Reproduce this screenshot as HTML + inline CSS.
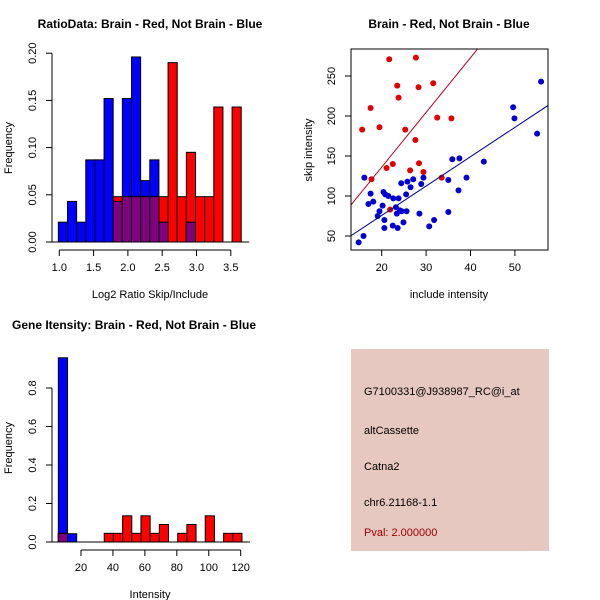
<!DOCTYPE html>
<html><head><meta charset="utf-8"><style>
body{margin:0;background:#fff}
svg{display:block;font-family:"Liberation Sans",sans-serif}
</style></head><body>
<svg id="c" width="600" height="600" viewBox="0 0 600 600" xmlns="http://www.w3.org/2000/svg">
<rect x="0" y="0" width="600" height="600" fill="#fff"/>
<g id="p1"></g>
<g id="p2"></g>
<g id="p3"></g>
<g id="p4">
<rect x="351" y="349" width="198" height="202" fill="#e6c8c0"/>
<text x="364" y="395" font-size="11" fill="#000">G7100331@J938987_RC@i_at</text>
<text x="364" y="434" font-size="11" fill="#000">altCassette</text>
<text x="364" y="470" font-size="11" fill="#000">Catna2</text>
<text x="364" y="506" font-size="11" fill="#000">chr6.21168-1.1</text>
<text x="364" y="536" font-size="11" fill="#a00000">Pval: 2.000000</text>
</g>
</svg>
<script>
// Histogram 1 data
const h1Start = 0.986, h1Width = 0.1333;
const h1Blue = [0.021,0.043,0.021,0.087,0.087,0.152,0.043,0.152,0.196,0.065,0.087,0.021,0,0,0.021,0,0,0,0,0];
const h1Red  = [0,0,0,0,0,0,0.048,0.048,0.048,0.048,0.048,0.048,0.19,0.048,0.095,0.048,0.048,0.143,0,0.143];
const h1XTicks = [1.0,1.5,2.0,2.5,3.0,3.5];
const h1YTicks = [0,0.05,0.10,0.15,0.20];
// Scatter data
const redX = [15.6,17.5,19.5,21.7,23.5,23.8,25.3,27.7,28.3,27.6,31.6,32.5,35.7,17.7,21.1,22.5,26.4,28.4,29.4,33.5,21.9];
const redY = [183,210,186,271,238,223,183,273,236,170,241,198,197,121,135,140,132,141,130,123,83];
const blueX = [14.8,15.9,16.1,17.5,17.0,18.1,19.1,19.5,20.2,20.4,20.8,21.5,20.6,20.6,22.6,23.8,23.2,23.4,24.1,24.5,25.6,24.4,25.8,25.5,26.5,27.1,28.9,29.4,28.5,24.9,22.5,23.6,30.7,31.8,35.0,35.0,35.9,37.5,37.3,39.1,43.0,49.6,49.9,55.0,55.9];
const blueY = [42,50,123,103,90,93,75,81,88,105,102,100,70,60,97,97,86,78,82,81,81,116,118,102,111,121,115,123,78,67,63,60,62,70,120,80,146,147,107,123,143,211,197,178,243];
const redFit = [-0.7, 6.84];   // intercept, slope (approx.)
const blueFit = [2.3, 3.67];
const scXTicks = [20,30,40,50];
const scYTicks = [50,100,150,200,250];
// Histogram 3 data
const h3Start = 5.8, h3Width = 5.75;
const h3Blue = [0.957,0.043,0,0,0,0,0,0,0,0,0,0,0,0,0,0,0,0,0,0];
const h3Red  = [0.045,0,0,0,0,0.045,0.045,0.136,0.045,0.136,0.045,0.091,0,0.045,0.091,0,0.136,0,0.045,0.045];
const h3XTicks = [20,40,60,80,100,120];
const h3YTicks = [0,0.2,0.4,0.6,0.8];

const NS="http://www.w3.org/2000/svg";
function mk(parent,tag,attrs,txt){const e=document.createElementNS(NS,tag);for(const k in attrs)e.setAttribute(k,attrs[k]);if(txt!==undefined)e.textContent=txt;parent.appendChild(e);return e;}

function hist(g, o){
  const xs=v=>o.x0px+(v-o.x0)*o.xk, ys=v=>o.y0px-v*o.yk;
  const n=o.blue.length;
  for(let i=0;i<n;i++){
    const a=xs(o.start+i*o.w), b=xs(o.start+(i+1)*o.w);
    const bv=o.blue[i], rv=o.red[i];
    if(bv>0){const r=mk(g,'rect',{x:a,y:ys(bv),width:b-a,height:ys(0)-ys(bv),fill:'#0000ff',stroke:'#000','stroke-width':1});
      
      }
    if(rv>0){const r=mk(g,'rect',{x:a,y:ys(rv),width:b-a,height:ys(0)-ys(rv),fill:'#ff0000',stroke:'#000','stroke-width':1});
      
      }
    const m=Math.min(bv,rv);
    if(m>0){const r=mk(g,'rect',{x:a,y:ys(m),width:b-a,height:ys(0)-ys(m),fill:'#800080',stroke:'#000','stroke-width':1});
      
      }
  }
  const ya=mk(g,'line',{x1:o.axX,x2:o.axX,y1:ys(o.yt[0]),y2:ys(o.yt[o.yt.length-1]),stroke:'#000'});
  
  
  o.yt.forEach(t=>{mk(g,'line',{x1:o.axX-6,x2:o.axX,y1:ys(t),y2:ys(t),stroke:'#000'});
    const lx=o.axX-16;
    const tx=mk(g,'text',{x:lx,y:ys(t),'font-size':11,'text-anchor':'middle',transform:`rotate(-90 ${lx} ${ys(t)})`},o.yf(t));
    
    });
  const xa=mk(g,'line',{x1:xs(o.xt[0]),x2:xs(o.xt[o.xt.length-1]),y1:o.axY,y2:o.axY,stroke:'#000'});
  
  
  o.xt.forEach(t=>{mk(g,'line',{x1:xs(t),x2:xs(t),y1:o.axY,y2:o.axY+6,stroke:'#000'});
    const tx=mk(g,'text',{x:xs(t),y:o.axY+21,'font-size':11,'text-anchor':'middle'},o.xf(t));
    
    });
  mk(g,'line',{x1:o.x0px+(o.start-o.x0)*o.xk-8,x2:xs(o.start+n*o.w)+8,y1:ys(0),y2:ys(0),stroke:'#000'});
}

const p1=document.getElementById('p1');
hist(p1,{x0:1,x0px:59.3,xk:68.6,y0px:242,yk:944,start:h1Start,w:h1Width,blue:h1Blue,red:h1Red,
  xt:h1XTicks,yt:h1YTicks,axX:52,axY:250,xf:t=>t.toFixed(1),yf:t=>t.toFixed(2)});
let t=mk(p1,'text',{x:150,y:28,'font-size':12,'font-weight':'bold','text-anchor':'middle'},'RatioData: Brain - Red, Not Brain - Blue');

t=mk(p1,'text',{x:150,y:298,'font-size':11,'text-anchor':'middle'},'Log2 Ratio Skip/Include');

t=mk(p1,'text',{x:12,y:148,'font-size':11,'text-anchor':'middle',transform:'rotate(-90 12 148)'},'Frequency');


const p3=document.getElementById('p3');
hist(p3,{x0:20,x0px:81,xk:1.597,y0px:542,yk:192.5,start:h3Start,w:h3Width,blue:h3Blue,red:h3Red,
  xt:h3XTicks,yt:h3YTicks,axX:52,axY:550,xf:t=>String(t),yf:t=>t.toFixed(1)});
t=mk(p3,'text',{x:12,y:329,'font-size':12,'font-weight':'bold'},'Gene Itensity: Brain - Red, Not Brain - Blue');

t=mk(p3,'text',{x:150,y:598,'font-size':11,'text-anchor':'middle'},'Intensity');

t=mk(p3,'text',{x:12,y:448,'font-size':11,'text-anchor':'middle',transform:'rotate(-90 12 448)'},'Frequency');


// Scatter
const p2=document.getElementById('p2');
const L=351,R=548,T=49,B=250;
const sx=v=>381.7+(v-20)*4.44, sy=v=>236-(v-50)*0.8;
const cp=mk(document.getElementById('c'),'clipPath',{id:'clip2'});
mk(cp,'rect',{x:L,y:T,width:R-L,height:B-T});
function fitLine(f,col,name){
  const xa=20+(L-381.7)/4.44, xb=20+(R-381.7)/4.44;
  const l=mk(p2,'line',{x1:sx(xa),y1:sy(f[0]+f[1]*xa),x2:sx(xb),y2:sy(f[0]+f[1]*xb),stroke:col,'stroke-width':1,'clip-path':'url(#clip2)'});
  
  
}
redX.forEach((x,i)=>{const c=mk(p2,'circle',{cx:sx(x),cy:sy(redY[i]),r:3,fill:'#e00000'});
  
  });
blueX.forEach((x,i)=>{const c=mk(p2,'circle',{cx:sx(x),cy:sy(blueY[i]),r:3,fill:'#0000d0'});
  
  });
fitLine(redFit,'#b00020','red-fit-line');
fitLine(blueFit,'#000090','blue-fit-line');
const box=mk(p2,'rect',{x:L,y:T,width:R-L,height:B-T,fill:'none',stroke:'#000'});


scXTicks.forEach(v=>{mk(p2,'line',{x1:sx(v),x2:sx(v),y1:B,y2:B+6,stroke:'#000'});
  const tx=mk(p2,'text',{x:sx(v),y:B+21,'font-size':11,'text-anchor':'middle'},String(v));
  
  });
scYTicks.forEach(v=>{mk(p2,'line',{x1:L-6,x2:L,y1:sy(v),y2:sy(v),stroke:'#000'});
  const lx=L-16;
  const tx=mk(p2,'text',{x:lx,y:sy(v),'font-size':11,'text-anchor':'middle',transform:`rotate(-90 ${lx} ${sy(v)})`},String(v));
  
  });
t=mk(p2,'text',{x:449,y:28,'font-size':12,'font-weight':'bold','text-anchor':'middle'},'Brain - Red, Not Brain - Blue');

t=mk(p2,'text',{x:449,y:298,'font-size':11,'text-anchor':'middle'},'include intensity');

t=mk(p2,'text',{x:312,y:150,'font-size':11,'text-anchor':'middle',transform:'rotate(-90 312 150)'},'skip intensity');

</script>
</body></html>
